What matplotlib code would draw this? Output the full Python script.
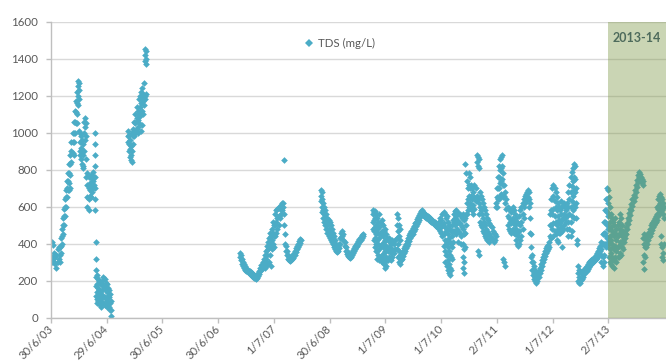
import numpy as np
import pandas as pd
import matplotlib
matplotlib.use("Agg")
import matplotlib.pyplot as plt
import matplotlib.dates as mdates
from matplotlib.lines import Line2D

# ---------------- data (weekly columns of TDS readings, mg/L) ----------------
series_name = "TDS (mg/L)"
step_days = 7

seg_a_start = "2003-07-01"
seg_a_values = [
    [400, 310], [410, 330, 300], [395, 320], [350, 300], [330, 290], [340, 270],
    [370, 300], [380, 320], [380, 340, 300], [430, 390, 350], [480, 440, 400],
    [540, 500, 450], [590, 550, 500], [640, 600, 550], [690, 650, 600],
    [740, 700, 650], [780, 740, 690], [830, 780, 730, 690], [880, 830, 770, 700],
    [950, 900, 840], [1000, 950, 890], [1060, 1000, 950, 880], [1120, 1060, 1000],
    [1170, 1110, 1050], [1220, 1160, 1100, 1050], [1280, 1250, 1200, 1150],
    [1270, 1230, 1180, 1010], [1000, 950, 900, 880], [980, 920, 860],
    [960, 900, 830], [940, 880, 820, 810], [1060, 1000, 900], [1080, 1030, 960],
    [1050, 980, 860, 760], [780, 720, 650, 600], [760, 700, 640, 580],
    [730, 690, 660], [770, 710, 650], [750, 700, 680], [790, 740, 700], [760, 720],
    [1000, 940, 880, 820, 760, 700, 640, 580], [410, 320, 260, 220, 170, 120],
    [230, 180, 140, 100, 80], [210, 160, 120, 90], [200, 150, 110, 80],
    [190, 140, 100, 70], [180, 130, 90, 60], [200, 150, 110], [220, 170, 120, 80],
    [210, 160, 110, 70], [190, 150, 100], [180, 140, 90, 60], [160, 120, 80],
    [150, 110, 60], [130, 80, 40], [90, 40, 10],
]

seg_b_start = "2004-11-16"
seg_b_values = [
    [1010, 980, 950], [990, 940, 900], [960, 910, 870], [930, 880, 850],
    [1000, 900, 840], [1020, 980, 940], [1060, 1010, 980], [1100, 1050, 1000],
    [1140, 1080, 1020], [1120, 1070, 1030, 1000], [1180, 1100, 1050],
    [1200, 1140, 1090], [1220, 1160, 1100, 1010], [1240, 1190, 1120, 1040],
    [1210, 1170, 1100], [1270, 1200, 1150], [1450, 1420, 1390, 1200, 1180],
    [1440, 1400, 1370, 1210],
]

seg_c_start = "2006-11-21"
seg_c_values = [
    [350, 330], [340, 310], [320, 290], [300, 280], [290, 270], [280, 260],
    [270, 250], [260, 245], [255, 240], [250, 235], [245, 230], [240, 225],
    [235, 220], [230, 215], [225, 212], [220, 210], [230, 215], [240, 225],
    [255, 235], [270, 250], [285, 260], [300, 270], [320, 280], [340, 300, 270],
    [360, 320, 280], [390, 340], [410, 370, 290], [430, 380, 300], [460, 400, 340],
    [440, 390, 280], [480, 420, 370], [520, 460, 400], [500, 440, 380],
    [560, 500, 440], [580, 520, 460], [590, 540, 480], [600, 550, 500], [590, 540],
    [610, 560], [620, 580], [620, 600], [850, 560, 500], [450, 400], [390, 360],
    [360, 340], [340, 320], [330, 310], [320, 305], [325, 310], [330, 315],
    [345, 325], [360, 340], [375, 355], [390, 370], [400, 380], [415, 395],
    [425, 405], [420],
]

seg_d_start = "2008-05-05"
seg_d_values = [
    [690, 660, 630], [680, 640, 600, 570], [620, 580, 540], [600, 560, 520],
    [580, 540, 500], [560, 520, 480], [540, 500, 460], [530, 480, 440],
    [520, 470, 430], [500, 450, 420], [480, 440, 410], [460, 420, 400],
    [440, 400, 380], [420, 390, 370], [400, 375, 360], [390, 365, 355], [380, 360],
    [400, 375], [430, 400], [460, 430], [470, 440], [450, 420], [410, 385],
    [380, 360], [360, 345], [350, 335], [345, 330], [340, 325], [345, 330],
    [355, 340], [365, 350], [375, 360], [385, 370], [395, 380], [405, 390],
    [415, 400], [425, 410], [435, 420], [445, 430], [455, 440],
]

seg_e_start = "2009-04-11"
seg_e_values = [
    [580, 560, 520, 480], [570, 530, 470, 420], [575, 540, 490, 430, 380],
    [560, 500, 450, 400, 360], [540, 480, 420, 360, 320], [520, 460, 400, 340],
    [560, 490, 430, 370, 310], [510, 450, 390, 330], [530, 470, 400, 340, 300],
    [500, 440, 380, 320], [470, 410, 350, 290], [480, 420, 360, 300, 270],
    [450, 390, 330, 280], [430, 370, 320], [420, 360, 310], [430, 380, 330],
    [410, 360, 320], [400, 350, 310], [420, 370, 330], [410, 360], [400, 350],
    [420, 370], [560, 500, 430, 370], [540, 470, 400, 330], [500, 440, 360, 300],
    [480, 420, 340, 290], [330, 310], [345, 320], [360, 335], [375, 350],
    [390, 360], [400, 375], [415, 390], [430, 400], [445, 415], [460, 430],
    [470, 440], [485, 455], [495, 470], [510, 480], [520, 495], [535, 505],
    [545, 520], [555, 530], [565, 545], [575, 555], [580, 560], [570, 555],
    [565, 550], [560, 545], [555, 540], [550, 535], [545, 530], [540, 525],
    [535, 520], [530, 515], [525, 510], [520, 505], [515, 500], [510, 495],
    [505, 490], [500, 485], [520, 490], [540, 500, 470], [530, 490, 460],
    [560, 500, 440], [570, 510, 450, 390], [560, 490, 420, 360, 300],
    [540, 470, 400, 340], [550, 480, 410, 340, 280], [520, 450, 380, 310, 260],
    [500, 430, 360, 290, 240], [480, 410, 340, 270, 230], [470, 400, 330, 260],
    [500, 440, 380, 320], [530, 470, 410], [560, 520, 470], [575, 540, 500],
    [580, 550, 510, 450], [570, 530, 480], [565, 520, 470, 410], [560, 510, 460],
    [550, 500, 440, 400], [540, 490], [560, 480, 400, 330, 270],
    [530, 450, 370, 300, 240], [830, 540, 460, 380], [780, 560, 500],
    [740, 620, 560], [700, 640, 580], [780, 720, 660, 600], [760, 700, 620],
    [720, 660, 590], [700, 640, 580], [680, 610, 560], [720, 650, 590], [700, 630],
    [880, 840, 660], [870, 820, 640, 360], [860, 810, 620, 560, 340],
    [680, 600, 520], [660, 580, 500], [640, 560, 490], [620, 540, 470],
    [600, 520, 460], [580, 500, 440], [560, 480, 430], [540, 470, 420],
    [530, 460, 420], [510, 450, 410], [500, 440], [490, 430], [470, 420],
    [460, 410], [450, 420], [620, 600, 440], [700, 650, 600], [760, 700, 640],
    [820, 760, 700, 640], [860, 800, 730, 660], [870, 810, 740, 670],
    [880, 820, 750], [780, 720, 650, 320], [720, 660, 300], [680, 620, 280],
    [640, 590], [600, 550, 500], [590, 540, 480], [580, 520, 470], [570, 510, 460],
    [590, 530, 470], [600, 540, 480], [580, 520, 460], [560, 500, 450],
    [540, 480, 420], [520, 460, 400], [510, 440, 390], [550, 470, 400],
    [580, 500, 420], [600, 520, 440], [620, 560, 480], [640, 600, 540], [660, 620],
    [670, 630], [680, 640], [690, 650], [680, 640, 600], [620, 540, 460],
    [450, 380, 330], [340, 300, 260], [300, 260, 230], [280, 240, 210],
    [260, 220, 200], [240, 210, 190], [230, 200], [250, 220], [270, 240],
    [290, 260], [310, 280], [330, 300], [345, 320], [360, 335], [375, 350],
    [385, 360], [395, 370], [410, 380], [560, 500, 440], [640, 580, 500, 430],
    [700, 640, 560, 480], [720, 660, 590, 510, 440], [700, 630, 550, 470],
    [680, 600, 520, 450], [650, 580, 500, 420], [620, 550, 480, 410],
    [600, 530, 460], [580, 510, 460], [630, 560, 490], [600, 530, 470, 380],
    [610, 540, 480], [620, 560, 500], [600, 540], [580, 520], [620, 550, 480],
    [680, 600, 520, 440], [720, 640, 560, 480], [760, 680, 600, 520, 440],
    [790, 710, 630, 550, 470], [810, 740, 660, 580], [830, 760, 690, 610, 540],
    [820, 750, 680, 600], [700, 620, 540], [420, 400], [280, 240, 200],
    [260, 220, 190], [250, 210, 190], [240, 205], [245, 210], [250, 220],
    [260, 235], [270, 245], [280, 255], [290, 265], [300, 275], [305, 285],
    [310, 290], [315, 295], [320, 300], [325, 305], [330, 310], [340, 315],
    [350, 325], [360, 335], [375, 345], [390, 360], [410, 370, 340, 300],
    [450, 400, 330, 280], [520, 460, 400, 340, 300], [580, 520, 460, 400],
    [640, 580, 510, 440, 380], [700, 640, 570, 500, 430], [690, 620, 550, 480, 410],
    [650, 560, 480, 400, 330], [600, 520, 440, 370, 300], [560, 490, 420, 350, 290],
    [540, 470, 400, 330, 280], [520, 450, 380, 320], [500, 440, 370, 310, 270],
    [540, 460, 390, 330], [480, 420, 360, 300], [500, 440, 380, 330],
    [520, 450, 390, 330], [560, 480, 410, 350], [540, 470, 400, 340],
    [500, 440, 380], [470, 420, 370], [440, 410], [460, 430], [490, 455],
    [510, 480], [540, 505], [565, 530], [590, 555], [615, 580], [640, 605],
    [665, 630], [690, 655], [715, 680], [745, 705], [770, 735], [785, 760],
    [775, 750], [760, 740], [750, 730], [740, 720, 430, 300], [450, 400, 340, 265],
    [430, 380, 330], [420, 380], [440, 400], [460, 420], [480, 440], [500, 460],
    [510, 475], [520, 490], [530, 500], [540, 510], [550, 520], [600, 560, 530],
    [640, 590, 550], [660, 610, 560], [670, 620, 570], [650, 600, 440, 400],
    [640, 580, 380, 330], [620, 560, 350, 310], [600, 540, 400],
]

tick_dates = ["2003-06-30", "2004-06-29", "2005-06-30", "2006-06-30", "2007-07-01",
              "2008-06-30", "2009-07-01", "2010-07-01", "2011-07-02", "2012-07-01",
              "2013-07-02"]
tick_labels = ["30/6/03", "29/6/04", "30/6/05", "30/6/06", "1/7/07", "30/6/08",
               "1/7/09", "1/7/10", "2/7/11", "1/7/12", "2/7/13"]

x_start = "2003-06-30"
x_end = "2014-07-15"
period_start = "2013-07-02"
period_label = "2013-14"
y_ticks = [0, 200, 400, 600, 800, 1000, 1200, 1400, 1600]

# ---------------- build points ----------------
def expand(start, columns):
    d0 = pd.Timestamp(start)
    xs, ys = [], []
    for i, col in enumerate(columns):
        d = d0 + pd.Timedelta(days=step_days * i)
        for v in col:
            xs.append(d)
            ys.append(v)
    return xs, ys

all_x, all_y = [], []
for s, vals in [(seg_a_start, seg_a_values), (seg_b_start, seg_b_values),
                (seg_c_start, seg_c_values), (seg_d_start, seg_d_values),
                (seg_e_start, seg_e_values)]:
    xs, ys = expand(s, vals)
    all_x += xs
    all_y += ys

# ---------------- plot ----------------
plt.rcParams['font.family'] = ['Lato', 'DejaVu Sans']
txt_color = "#595959"
pt_color = "#4BACC6"

fig = plt.figure(figsize=(6.66, 3.62), dpi=100)
ax = fig.add_axes([51 / 666, 44.3 / 362, 615 / 666, 296 / 362])

ax.plot(all_x, all_y, linestyle="none", marker="D", markersize=3.4,
        markeredgewidth=0, color=pt_color, zorder=2, label=series_name)

ax.axvspan(pd.Timestamp(period_start), pd.Timestamp(x_end), color="#76923C",
           alpha=0.38, lw=0, zorder=3)
mid = pd.Timestamp(period_start) + (pd.Timestamp(x_end) - pd.Timestamp(period_start)) / 2
ax.text(mid, 1510, period_label, ha="center", va="center", fontsize=9,
        fontweight="bold", color="#4E6B5C", zorder=4)

ax.set_xlim(pd.Timestamp(x_start), pd.Timestamp(x_end))
ax.set_ylim(0, 1600)
ax.set_yticks(y_ticks)
ax.set_xticks([pd.Timestamp(d) for d in tick_dates])
ax.set_xticklabels(tick_labels)

ax.grid(axis="y", color="#D9D9D9", linewidth=1.0, zorder=0)
ax.set_axisbelow(True)
for side in ["top", "right"]:
    ax.spines[side].set_visible(False)
for side in ["left", "bottom"]:
    ax.spines[side].set_color("#BFBFBF")
    ax.spines[side].set_linewidth(1.0)

ax.tick_params(axis="both", colors="#BFBFBF", labelcolor=txt_color,
               labelsize=8.3, length=3.6, width=1.0)
ax.tick_params(axis="y", pad=5.8)
ax.tick_params(axis="x", pad=3.2, labelsize=8.1)
for lab in ax.get_xticklabels():
    lab.set_rotation(45)
    lab.set_ha("right")
    lab.set_va("center")
    lab.set_rotation_mode("anchor")

handle = Line2D([], [], linestyle="none", marker="D", markersize=3.6,
                markeredgewidth=0, color=pt_color)
leg = ax.legend([handle], [series_name], loc="center", bbox_to_anchor=(0.469, 0.928),
                frameon=False, fontsize=8.3, handlelength=0.8, handletextpad=0.4,
                borderaxespad=0)
for t in leg.get_texts():
    t.set_color(txt_color)

fig.savefig("out.png", dpi=100)
